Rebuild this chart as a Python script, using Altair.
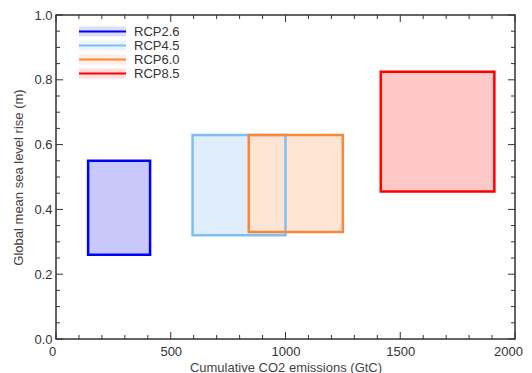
import altair as alt
import pandas as pd

# ---- data ----
scenarios = ["RCP2.6", "RCP4.5", "RCP6.0", "RCP8.5"]
emis_lo = [140, 595, 840, 1415]
emis_hi = [410, 1000, 1250, 1910]
slr_lo = [0.26, 0.32, 0.33, 0.455]
slr_hi = [0.55, 0.63, 0.63, 0.825]
fill_colors = ["#c8c8fa", "#dfedfc", "#fde4d3", "#ffc8c8"]
line_colors = ["#0000ff", "#7fbdf7", "#f7883a", "#ff0000"]

x_major = [0, 500, 1000, 1500, 2000]
x_minor = [100, 200, 300, 400, 600, 700, 800, 900, 1100, 1200, 1300, 1400,
           1600, 1700, 1800, 1900]
y_major = [0.0, 0.2, 0.4, 0.6, 0.8, 1.0]
y_minor = [0.05, 0.1, 0.15, 0.25, 0.3, 0.35, 0.45, 0.5, 0.55, 0.65, 0.7, 0.75,
           0.85, 0.9, 0.95]

W, H = 459, 324
FONT = "Liberation Sans"

df = pd.DataFrame({"scenario": scenarios, "x1": emis_lo, "x2": emis_hi,
                   "y1": slr_lo, "y2": slr_hi})
df["band"] = df["scenario"] + " "
band_domain = [s + " " for s in scenarios]

xs = alt.Scale(domain=[0, 2000], nice=False, zero=False)
ys = alt.Scale(domain=[0, 1.0], nice=False, zero=False)
x_axis = alt.Axis(values=x_major, format="d", title="Cumulative CO2 emissions (GtC)",
                  labelPadding=6, titlePadding=3, labelFlush=True,
                  labelFlushOffset=7.5, labelOverlap=False, labelBound=False)
y_axis = alt.Axis(values=y_major, format=".1f",
                  title="Global mean sea level rise (m)",
                  labelPadding=4, titlePadding=8, labelFlush=False,
                  labelOverlap=False)


def X(field):
    return alt.X(field, type="quantitative", scale=xs, axis=x_axis)


def Y(field):
    return alt.Y(field, type="quantitative", scale=ys, axis=y_axis)


leg_common = dict(orient="none", legendX=40, legendY=10, title=None,
                  symbolSize=100, labelFontSize=13, labelFont=FONT,
                  labelOffset=25, rowPadding=0, padding=0)

fills = alt.Chart(df).mark_rect().encode(
    x=X("x1"), x2="x2", y=Y("y1"), y2="y2",
    fill=alt.Fill("band:N", scale=alt.Scale(domain=band_domain, range=fill_colors),
                  legend=alt.Legend(symbolType="M-4.7,-1H4.7V1H-4.7Z",
                                    symbolStrokeWidth=0, symbolOpacity=0.6,
                                    labelOpacity=0, **leg_common)),
)

strokes = alt.Chart(df).mark_rect(filled=False, strokeWidth=2.5).encode(
    x=X("x1"), x2="x2", y=Y("y1"), y2="y2",
    stroke=alt.Stroke("scenario:N",
                      scale=alt.Scale(domain=scenarios, range=line_colors),
                      legend=alt.Legend(symbolType="M-4.7,0H4.7",
                                        symbolStrokeWidth=2,
                                        labelColor="#333", **leg_common)),
)

TC = "#333"


def xticks(vals, length):
    d = pd.DataFrame({"v": vals})
    bot = alt.Chart(d).mark_rule(color=TC, strokeWidth=1).encode(
        x=X("v"), y=alt.value(H), y2=alt.value(H - length))
    top = alt.Chart(d).mark_rule(color=TC, strokeWidth=1).encode(
        x=X("v"), y=alt.value(0), y2=alt.value(length))
    return [bot, top]


def yticks(vals, length):
    d = pd.DataFrame({"v": vals})
    left = alt.Chart(d).mark_rule(color=TC, strokeWidth=1).encode(
        y=Y("v"), x=alt.value(0), x2=alt.value(length))
    right = alt.Chart(d).mark_rule(color=TC, strokeWidth=1).encode(
        y=Y("v"), x=alt.value(W), x2=alt.value(W - length))
    return [left, right]


layers = [fills, strokes] + xticks(x_major, 7) + xticks(x_minor, 4) \
    + yticks(y_major, 7) + yticks(y_minor, 4)

chart = alt.layer(*layers).properties(
    width=W, height=H,
    autosize=alt.AutoSizeParams(type="none"),
    padding={"left": 48, "top": 7, "right": 9, "bottom": 40},
    background="white",
).configure_view(
    stroke="#333", strokeWidth=1.5
).configure_axis(
    labelFont=FONT, labelFontSize=13, labelColor="#333",
    titleFont=FONT, titleFontSize=13, titleFontWeight="normal", titleColor="#444",
    ticks=False, domain=False, grid=False,
)

chart.save("out.html", embed_options={"renderer": "svg", "actions": False})
